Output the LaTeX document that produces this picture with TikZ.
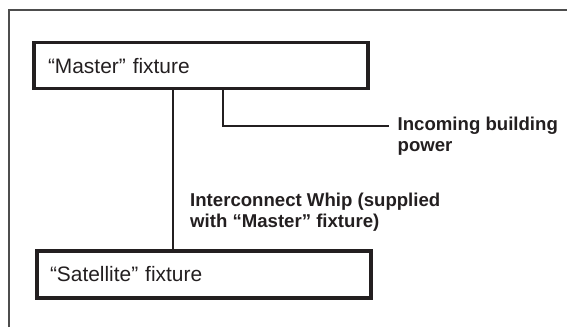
\documentclass[tikz,border=0pt]{standalone}
\usepackage{fontspec}
\setmainfont{Liberation Sans}
\definecolor{ink}{HTML}{231F20}
\definecolor{framecol}{HTML}{4D4D4D}
\begin{document}
\begin{tikzpicture}[x=1pt,y=1pt,
  fixture/.style={draw=ink, line width=3.1pt, rectangle, minimum height=46pt,
    text width=306pt, inner xsep=14pt, inner ysep=0pt, align=left,
    font=\fontsize{20.9}{24}\selectfont, text=ink},
  callout/.style={anchor=base west, inner sep=0pt,
    font=\fontsize{18.6}{21.7}\selectfont\bfseries, text=ink},
  wire/.style={draw=ink, line width=2pt},
  framel/.style={draw=framecol, line width=1.4pt}]
\useasboundingbox (0,0) rectangle (567,-327);
\draw[framel] (9,-327) -- (9,-10) -- (567,-10);
\node[fixture] (master) at (201,-65.6) {“Master” fixture};
\node[fixture, minimum height=47pt, inner xsep=13pt, text width=308pt] (sat) at (204,-274.5) {“Satellite” fixture};
\coordinate (wx) at (172.5,0);
\coordinate (pbend) at (223,-126);
\coordinate (pend) at (389,-126);
\draw[wire] (wx |- master.south) -- (wx |- sat.north);
\draw[wire] (pbend |- master.south) -- (pbend) -- (pend);
\node[callout] (in1) at (397.5,-130.5) {Incoming building};
\node[callout] (in2) at (397.5,-151.5) {power};
\node[callout] (ic1) at (190,-206) {Interconnect Whip (supplied};
\node[callout] (ic2) at (190,-227.7) {with “Master” fixture)};
\end{tikzpicture}
\end{document}
